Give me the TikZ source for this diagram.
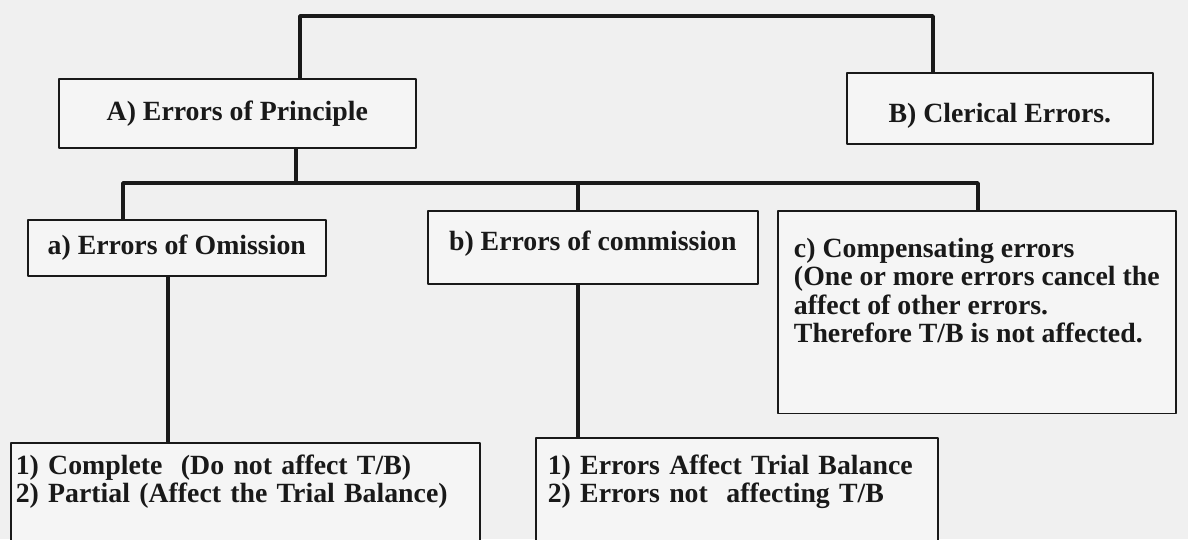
\documentclass[tikz,border=0pt]{standalone}
\usepackage{fontspec}
\setmainfont{Liberation Serif}
\begin{document}
\begin{tikzpicture}[x=1pt, y=-1pt, line join=round,
	box/.style={draw=black!90, line width=1.6pt, fill=black!4, text=black!90,
		font=\fontsize{27.8}{28.5}\selectfont\bfseries, inner sep=0pt, anchor=north west},
	link/.style={line width=3.6pt, draw=black!90}]
	\def\gap#1{\rule[-#1]{0pt}{1pt}}
	\fill[black!6] (0,0) rectangle (1188,539);
	\clip (0,0) rectangle (1188,539);
	% boxes
	\node[box, minimum width=357pt, minimum height=69pt] (prin) at (58,78) {A) Errors of Principle};
	\node[box, minimum width=306pt, minimum height=71pt, text height=34pt] (cler) at (846,72) {B) Clerical Errors.};
	\node[box, minimum width=298pt, minimum height=56pt] (omis) at (27,219) {a) Errors of Omission};
	\node[box, minimum width=330pt, minimum height=73pt, text depth=14pt] (comm) at (427,210) {b) Errors of commission};
	\node[box, align=left, minimum width=398pt, inner ysep=27pt] (comp) at (777,210)
		{c) Compensating errors\\(One or more errors cancel the\\affect of other errors.\\Therefore T/B is not affected.\gap{44pt}};
	\node[box, align=left, text width=459pt, inner xsep=5pt, inner ysep=12pt] (omislist) at (10,442)
		{1) Complete\ \ (Do not affect T/B)\\2) Partial (Affect the Trial Balance)\gap{60pt}};
	\node[box, align=left, text width=378pt, inner xsep=12pt, inner ysep=17pt] (commlist) at (535,437)
		{1) Errors Affect Trial Balance\\2) Errors not\ \ affecting T/B\gap{60pt}};
	% connectors
	\coordinate (topL) at (300,16); \coordinate (topR) at (933,16);
	\draw[link] (prin.north -| topL) -- (topL) -- (topR) -- (topR |- cler.north);
	\coordinate (midA) at (296,183); \coordinate (barL) at (123,183);
	\coordinate (barM) at (578,183); \coordinate (barR) at (978,183);
	\draw[link] (prin.south -| midA) -- (midA);
	\draw[link] (barL |- omis.north) -- (barL) -- (barR) -- (barR |- comp.north);
	\draw[link] (barM) -- (barM |- comm.north);
	\coordinate (stemA) at (168,360); \coordinate (stemB) at (578,360);
	\draw[link] (stemA |- omis.south) -- (stemA |- omislist.north);
	\draw[link] (stemB |- comm.south) -- (stemB |- commlist.north);
\end{tikzpicture}
\end{document}
